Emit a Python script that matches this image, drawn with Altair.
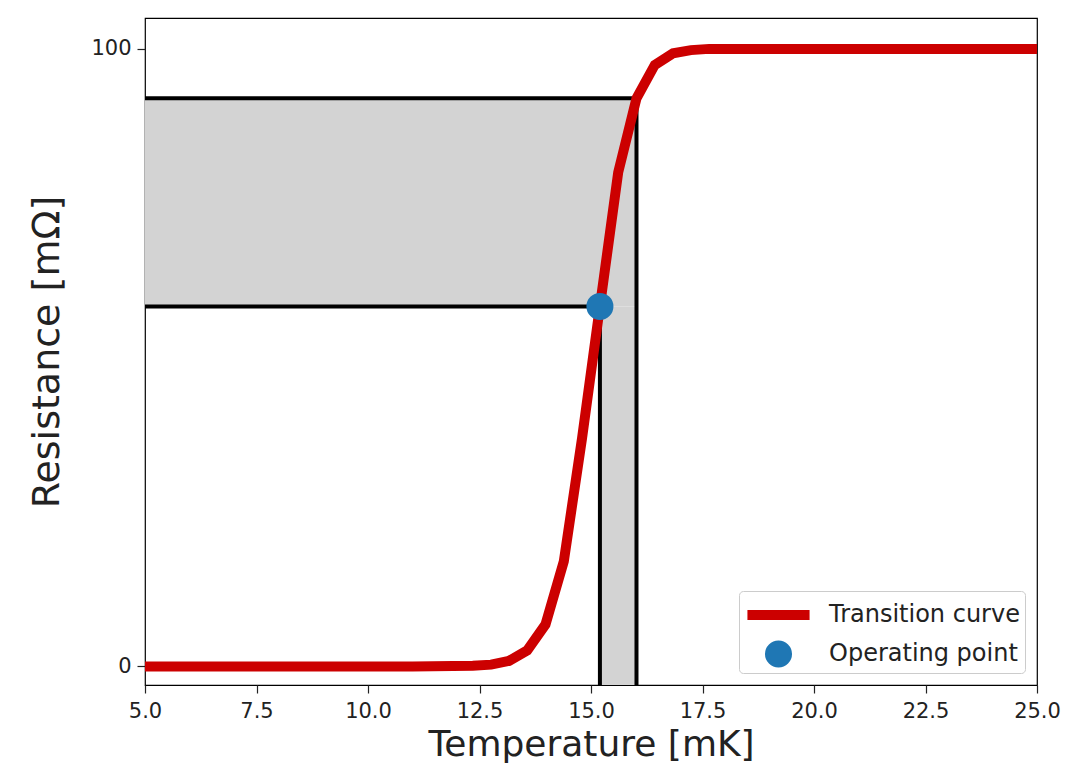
import altair as alt
import pandas as pd

# Transition curve
temp_mk = [5.0, 8.0, 11.0, 12.35, 12.76, 13.16, 13.57, 13.98, 14.39, 14.80,
           15.20, 15.61, 16.02, 16.43, 16.84, 17.24, 17.65, 18.5, 21.0, 25.0]
resist_mohm = [0.0, 0.0, 0.0, 0.1, 0.3, 0.9, 2.6, 6.8, 17.0, 37.0,
               58.3, 80.0, 92.0, 97.4, 99.3, 99.8, 100.0, 100.0, 100.0, 100.0]

# Operating point and upper bound of the shaded region
op_t, op_r = 15.20, 58.3
hi_t, hi_r = 16.02, 92.0

x_min, x_max = 5.0, 25.0
y_min, y_max = -3.0, 105.0
x_ticks = [5.0, 7.5, 10.0, 12.5, 15.0, 17.5, 20.0, 22.5, 25.0]
y_ticks = [0, 100]

series_names = ["Transition curve", "Operating point"]
series_colors = ["#cc0000", "#1f77b4"]

FONT = "DejaVu Sans"

curve_df = pd.DataFrame({"T": temp_mk, "R": resist_mohm})
op_df = pd.DataFrame({"T": [op_t], "R": [op_r], "series": ["Operating point"]})

bands_df = pd.DataFrame({
    "x": [x_min, op_t],
    "x2": [hi_t, hi_t],
    "y": [op_r, y_min],
    "y2": [hi_r, op_r],
})

hlines_df = pd.DataFrame({"x": [x_min, x_min], "x2": [hi_t, op_t], "y": [hi_r, op_r]})
vlines_df = pd.DataFrame({"x": [op_t, hi_t], "y": [y_min, y_min], "y2": [op_r, hi_r]})

xscale = alt.Scale(domain=[x_min, x_max], nice=False, zero=False)
yscale = alt.Scale(domain=[y_min, y_max], nice=False, zero=False)

x_axis = alt.Axis(values=x_ticks, format=".1f", title="Temperature [mK]",
                  grid=False, tickSize=8, labelFontSize=21, titleFontSize=36,
                  labelPadding=7, titlePadding=6, domain=False, labelFlush=False,
                  titleFontWeight="normal")
y_axis = alt.Axis(values=y_ticks, format="d", title="Resistance [mΩ]",
                  grid=False, tickSize=8, labelFontSize=21, titleFontSize=38,
                  labelPadding=6, titlePadding=24, domain=False,
                  titleFontWeight="normal")

bands = alt.Chart(bands_df).mark_rect(color="#d3d3d3").encode(
    x=alt.X("x:Q", scale=xscale, axis=x_axis),
    x2="x2:Q",
    y=alt.Y("y:Q", scale=yscale, axis=y_axis),
    y2="y2:Q",
)

hlines = alt.Chart(hlines_df).mark_rule(color="black", strokeWidth=4).encode(
    x=alt.X("x:Q", scale=xscale), x2="x2:Q", y=alt.Y("y:Q", scale=yscale)
)
vlines = alt.Chart(vlines_df).mark_rule(color="black", strokeWidth=4).encode(
    x=alt.X("x:Q", scale=xscale), y=alt.Y("y:Q", scale=yscale), y2="y2:Q"
)

curve = alt.Chart(curve_df).mark_line(color="#cc0000", strokeWidth=10).encode(
    x=alt.X("T:Q", scale=xscale), y=alt.Y("R:Q", scale=yscale)
)

legend = alt.Legend(
    title=None, orient="bottom-right", offset=12,
    labelFont=FONT, labelFontSize=24, labelColor="#222222", labelLimit=400,
    padding=5, cornerRadius=4, strokeColor="#cccccc", fillColor="white",
    rowPadding=5, symbolOffset=15.5, labelOffset=31.5, symbolOpacity=1,
)

point = alt.Chart(op_df).mark_point(filled=True, opacity=1, size=730).encode(
    x=alt.X("T:Q", scale=xscale),
    y=alt.Y("R:Q", scale=yscale),
    fill=alt.Fill("series:N", scale=alt.Scale(domain=series_names, range=series_colors), legend=legend),
    stroke=alt.Stroke("series:N", scale=alt.Scale(domain=series_names, range=series_colors), legend=legend),
    strokeWidth=alt.StrokeWidth("series:N", scale=alt.Scale(domain=series_names, range=[10, 0]), legend=legend),
    shape=alt.Shape("series:N", scale=alt.Scale(domain=series_names, range=["M-2.3,0H2.3", "circle"]), legend=legend),
)

chart = alt.layer(bands, hlines, vlines, curve, point).properties(
    width=892, height=667,
    autosize=alt.AutoSizeParams(type="none"),
    padding={"left": 137, "top": 10, "right": 24, "bottom": 81},
).configure(
    font=FONT,
).configure_view(
    stroke="black", strokeWidth=1.2
).configure_axis(
    labelFont=FONT, titleFont=FONT, labelColor="#222222", titleColor="#222222",
    tickColor="#222222", tickWidth=1.2,
).configure_legend(
    symbolSize=730
)

chart.save("out.html", embed_options={"renderer": "svg", "actions": False})
